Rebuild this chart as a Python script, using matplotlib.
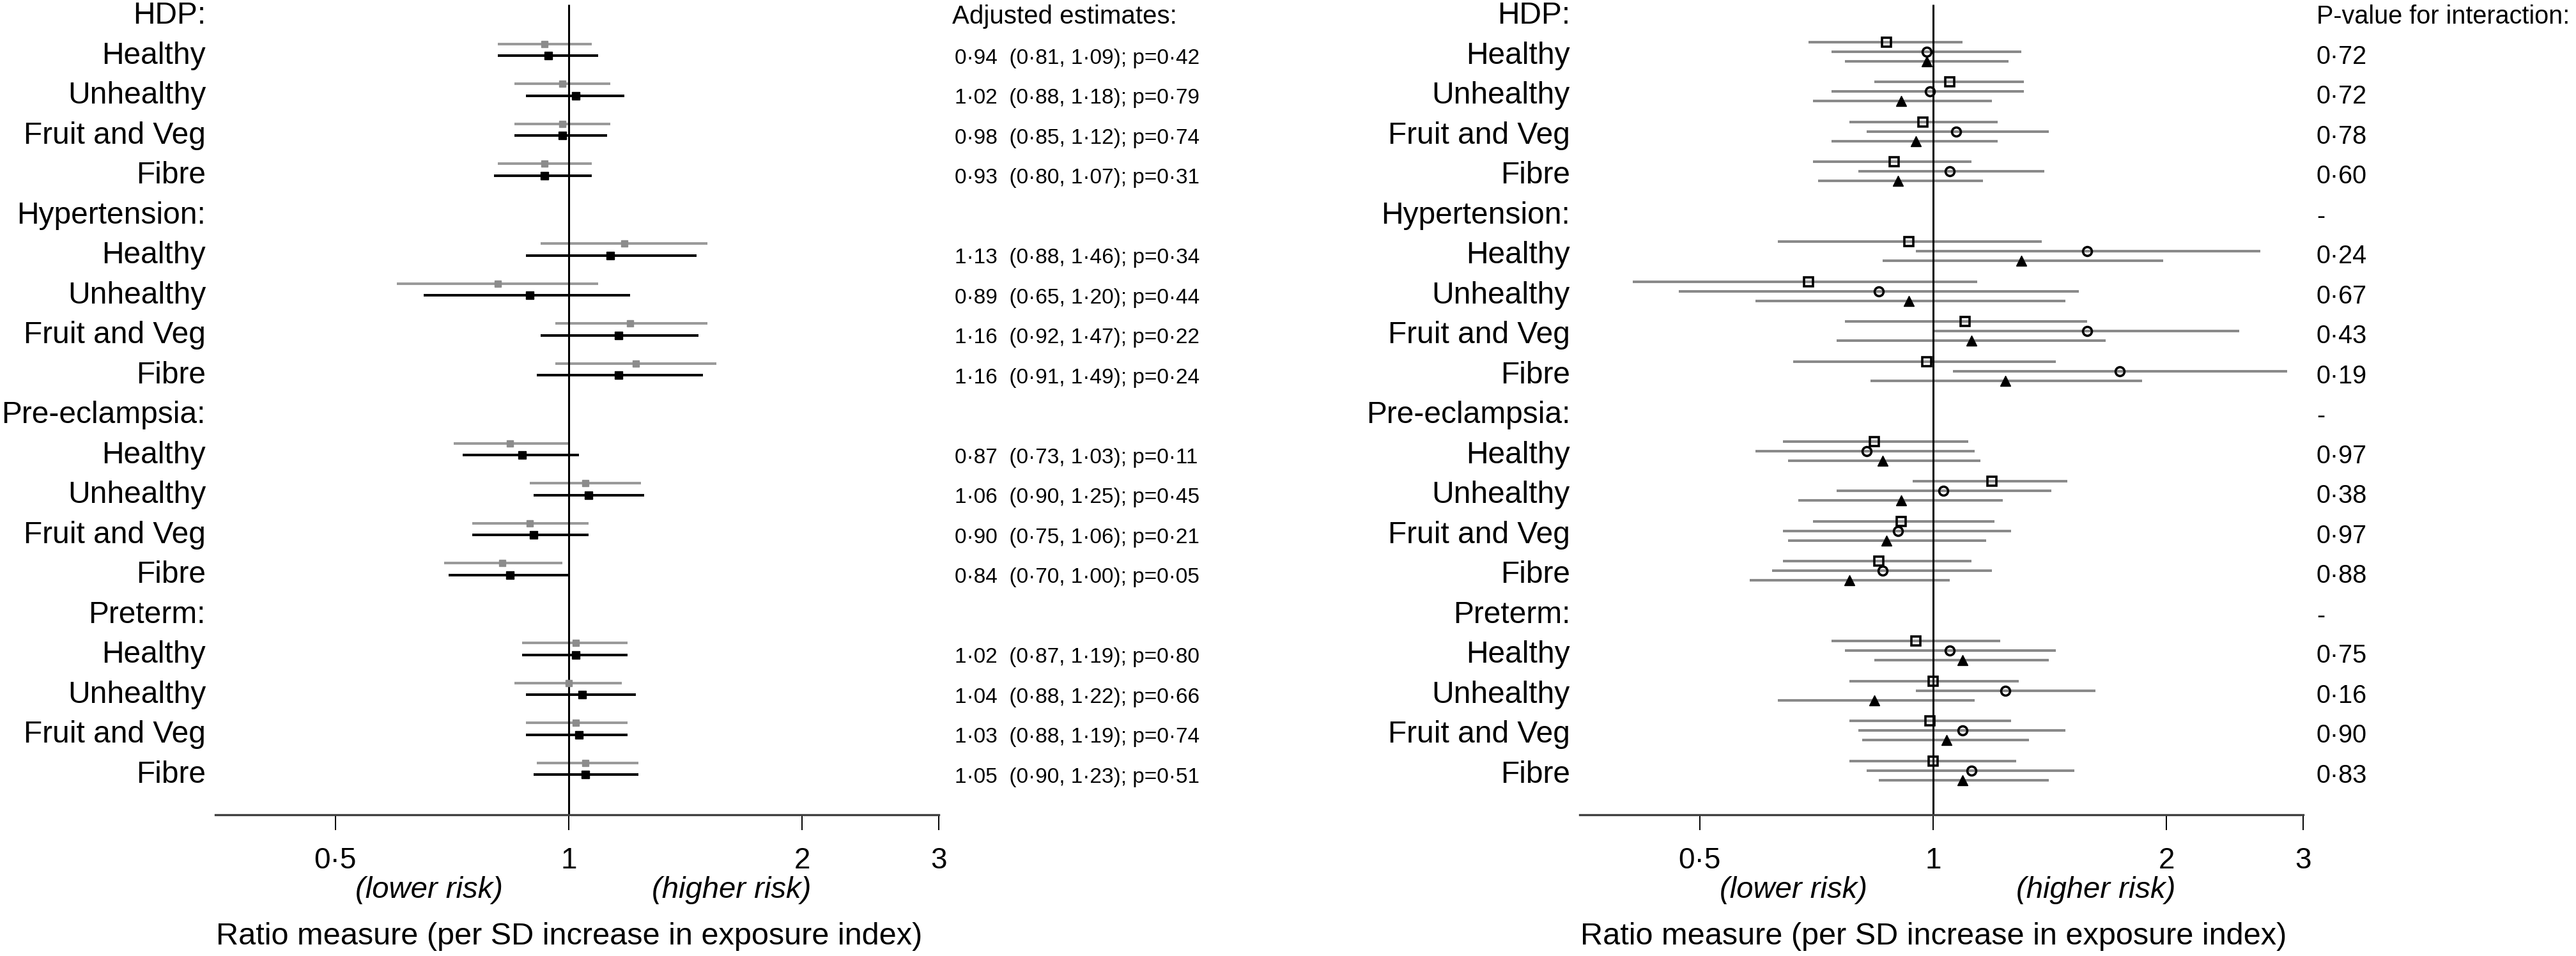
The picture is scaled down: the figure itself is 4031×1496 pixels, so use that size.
import matplotlib
matplotlib.use("Agg")
import matplotlib.pyplot as plt
from matplotlib.transforms import blended_transform_factory as blend
from matplotlib.ticker import NullLocator

plt.rcParams['font.family'] = ['Liberation Sans', 'DejaVu Sans']

# --- data -------------------------------------------------------------
groups = ["HDP:", "Hypertension:", "Pre-eclampsia:", "Preterm:"]
patterns = ["Healthy", "Unhealthy", "Fruit and Veg", "Fibre"]

# left panel: adjusted (black) and unadjusted (grey) estimates
adj_est = [0.94, 1.02, 0.98, 0.93, 1.13, 0.89, 1.16, 1.16, 0.87, 1.06, 0.90, 0.84, 1.02, 1.04, 1.03, 1.05]
adj_lo = [0.81, 0.88, 0.85, 0.80, 0.88, 0.65, 0.92, 0.91, 0.73, 0.90, 0.75, 0.70, 0.87, 0.88, 0.88, 0.90]
adj_hi = [1.09, 1.18, 1.12, 1.07, 1.46, 1.20, 1.47, 1.49, 1.03, 1.25, 1.06, 1.00, 1.19, 1.22, 1.19, 1.23]
adj_p = [0.42, 0.79, 0.74, 0.31, 0.34, 0.44, 0.22, 0.24, 0.11, 0.45, 0.21, 0.05, 0.80, 0.66, 0.74, 0.51]

unadj_est = [0.93, 0.98, 0.98, 0.93, 1.18, 0.81, 1.20, 1.22, 0.84, 1.05, 0.89, 0.82, 1.02, 1.00, 1.02, 1.05]
unadj_lo = [0.81, 0.85, 0.85, 0.81, 0.92, 0.60, 0.96, 0.96, 0.71, 0.89, 0.75, 0.69, 0.87, 0.85, 0.88, 0.91]
unadj_hi = [1.07, 1.13, 1.13, 1.07, 1.51, 1.09, 1.51, 1.55, 1.00, 1.24, 1.06, 0.98, 1.19, 1.17, 1.19, 1.23]

# right panel: three sub-estimates per row (square, circle, triangle)
sq_est = [0.87, 1.05, 0.97, 0.89, 0.93, 0.69, 1.10, 0.98, 0.84, 1.19, 0.91, 0.85, 0.95, 1.00, 0.99, 1.00]
sq_lo = [0.69, 0.84, 0.78, 0.70, 0.63, 0.41, 0.77, 0.66, 0.64, 0.94, 0.70, 0.64, 0.74, 0.78, 0.78, 0.78]
sq_hi = [1.09, 1.31, 1.21, 1.12, 1.38, 1.14, 1.58, 1.44, 1.11, 1.49, 1.20, 1.12, 1.22, 1.29, 1.26, 1.28]

ci_est = [0.98, 0.99, 1.07, 1.05, 1.58, 0.85, 1.58, 1.74, 0.82, 1.03, 0.90, 0.86, 1.05, 1.24, 1.09, 1.12]
ci_lo = [0.74, 0.74, 0.82, 0.80, 0.95, 0.47, 1.00, 1.06, 0.59, 0.75, 0.64, 0.62, 0.77, 0.95, 0.80, 0.82]
ci_hi = [1.30, 1.31, 1.41, 1.39, 2.64, 1.54, 2.48, 2.86, 1.13, 1.42, 1.26, 1.19, 1.44, 1.62, 1.48, 1.52]

tr_est = [0.98, 0.91, 0.95, 0.90, 1.30, 0.93, 1.12, 1.24, 0.86, 0.91, 0.87, 0.78, 1.09, 0.84, 1.04, 1.09]
tr_lo = [0.77, 0.70, 0.74, 0.71, 0.86, 0.59, 0.75, 0.83, 0.65, 0.67, 0.65, 0.58, 0.84, 0.63, 0.81, 0.85]
tr_hi = [1.25, 1.19, 1.21, 1.16, 1.98, 1.48, 1.67, 1.86, 1.15, 1.23, 1.17, 1.05, 1.41, 1.13, 1.33, 1.41]

p_inter = [0.72, 0.72, 0.78, 0.60, 0.24, 0.67, 0.43, 0.19, 0.97, 0.38, 0.97, 0.88, 0.75, 0.16, 0.90, 0.83]

xticks = [0.5, 1, 2, 3]
xticklabels = ["0·5", "1", "2", "3"]

# --- layout (pixels of a 4031x1496 canvas) -----------------------------
W, H = 4031, 1496
ROW0, ROWH = 15.5, 62.5          # pixel y of row 0 and row spacing
AX_L, AX_R, AX_B = 337, 1469, 1275
SHIFT = 2135                      # right panel is the same layout moved right
BASE = 0.35                       # text baseline offset (rows)


def row(py):
    return (py - ROW0) / ROWH


def dot(v):
    return f"{v:.2f}".replace(".", "·")


header_rows = [5 * g for g in range(len(groups))]
data_rows = [5 * g + k + 1 for g in range(len(groups)) for k in range(len(patterns))]

fig = plt.figure(figsize=(W / 100, H / 100), dpi=100)


def make_panel(dx):
    ax = fig.add_axes([(AX_L + dx) / W, (H - AX_B) / H, (AX_R - AX_L) / W, AX_B / H])
    ax.set_xscale('log')
    ax.set_xlim(0.35, 3)
    ax.set_ylim(row(AX_B), row(0))
    for s in ['left', 'right', 'top']:
        ax.spines[s].set_visible(False)
    ax.spines['bottom'].set_linewidth(2.4)
    ax.spines['bottom'].set_color('#404040')
    ax.set_yticks([])
    ax.set_xticks(xticks)
    ax.set_xticklabels(xticklabels)
    ax.xaxis.set_minor_locator(NullLocator())
    ax.tick_params(axis='x', length=17, width=1.4, pad=19, labelsize=33)
    ax.plot([1, 1], [row(7), row(AX_B)], color='black', lw=2.2, zorder=2.5,
            clip_on=False, solid_capstyle='butt')

    # row labels
    lab_tr = blend(fig.transFigure, ax.transData)
    for g, name in enumerate(groups):
        ax.text((322 + dx) / W, header_rows[g] + BASE, name, transform=lab_tr,
                ha='right', va='baseline', fontsize=34.5)
    for i, r in enumerate(data_rows):
        ax.text((322 + dx) / W, r + BASE, patterns[i % 4], transform=lab_tr,
                ha='right', va='baseline', fontsize=34.5)

    # bottom annotations
    bt = blend(ax.transData, fig.transFigure)
    ax.text(0.66, (H - 1405) / H, "(lower risk)", transform=bt, ha='center',
            va='baseline', fontsize=34, style='italic')
    ax.text(1.62, (H - 1405) / H, "(higher risk)", transform=bt, ha='center',
            va='baseline', fontsize=34, style='italic')
    ax.text(1.0, (H - 1478) / H, "Ratio measure (per SD increase in exposure index)",
            transform=bt, ha='center', va='baseline', fontsize=35)
    return ax, lab_tr


# --- left panel ---------------------------------------------------------
axL, trL = make_panel(0)
y_grey = [r - 0.15 for r in data_rows]
y_black = [r + 0.15 for r in data_rows]
axL.hlines(y_grey, unadj_lo, unadj_hi, color='#9a9a9a', lw=2.9, zorder=2)
axL.plot(unadj_est, y_grey, ls='none', marker='s', ms=7.5, color='#8c8c8c', zorder=3)
axL.hlines(y_black, adj_lo, adj_hi, color='black', lw=2.9, zorder=2)
axL.plot(adj_est, y_black, ls='none', marker='s', ms=8.5, color='black', zorder=3)

axL.text(1490 / W, header_rows[0] + BASE, "Adjusted estimates:", transform=trL,
         ha='left', va='baseline', fontsize=29)
for i, r in enumerate(data_rows):
    txt = f"{dot(adj_est[i])}  ({dot(adj_lo[i])}, {dot(adj_hi[i])}); p={dot(adj_p[i])}"
    axL.text(1494 / W, r + BASE, txt, transform=trL, ha='left', va='baseline',
             fontsize=24)

# --- right panel --------------------------------------------------------
axR, trR = make_panel(SHIFT)
series = [
    (sq_est, sq_lo, sq_hi, -0.2, dict(marker='s', ms=10, mfc='none', mec='black', mew=2.6)),
    (ci_est, ci_lo, ci_hi, 0.04, dict(marker='o', ms=10, mfc='none', mec='black', mew=2.6)),
    (tr_est, tr_lo, tr_hi, 0.28, dict(marker='^', ms=11, mfc='black', mec='black', mew=1)),
]
for est, lo, hi, off, mk in series:
    ys = [r + off for r in data_rows]
    axR.hlines(ys, lo, hi, color='#8a8a8a', lw=2.9, zorder=2)
    axR.plot(est, ys, ls='none', zorder=3, **mk)

axR.text(3625 / W, header_rows[0] + BASE, "P-value for interaction:", transform=trR,
         ha='left', va='baseline', fontsize=28.5)
for g in header_rows[1:]:
    axR.text(3625 / W, g + BASE, "-", transform=trR, ha='left', va='baseline', fontsize=28.5)
for i, r in enumerate(data_rows):
    axR.text(3625 / W, r + BASE, dot(p_inter[i]), transform=trR, ha='left',
             va='baseline', fontsize=28.5)

fig.savefig("out.png", dpi=100, facecolor='white')
